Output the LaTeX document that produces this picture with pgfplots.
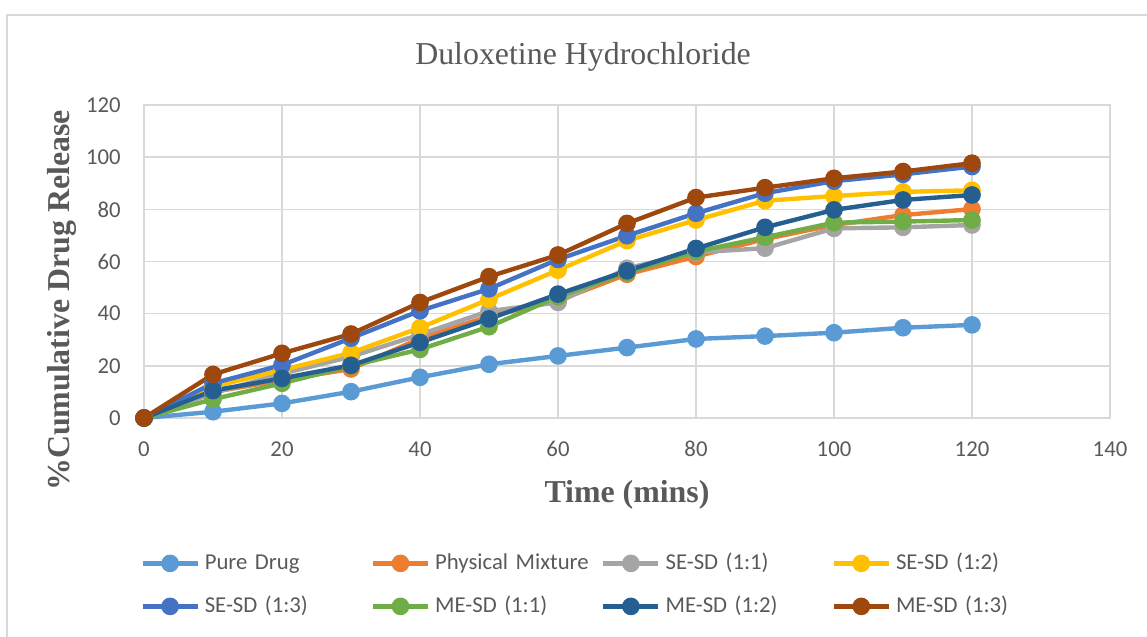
\documentclass[border=0pt]{standalone}
\usepackage{fontspec}
\setmainfont{Liberation Serif}
\newfontfamily\calibri{Carlito}
\usepackage{pgfplots}
\usepackage{pgfplotstable}
\pgfplotsset{compat=1.18}

\definecolor{gridgray}{HTML}{D9D9D9}
\definecolor{txtgray}{HTML}{595959}
\definecolor{cPure}{HTML}{5B9BD5}
\definecolor{cPM}{HTML}{ED7D31}
\definecolor{cSEa}{HTML}{A5A5A5}
\definecolor{cSEb}{HTML}{FFC000}
\definecolor{cSEc}{HTML}{4472C4}
\definecolor{cMEa}{HTML}{70AD47}
\definecolor{cMEb}{HTML}{255E91}
\definecolor{cMEc}{HTML}{9E480E}

% cumulative release (%) vs time (min)
\pgfplotstableread{
t   pure  pm    sea   seb   sec   mea   meb   mec
0   0     0     0     0     0     0     0     0
10  2.4   10.0  9.5   12.0  13.3  7.2   10.5  16.7
20  5.6   14.5  17.0  18.4  20.3  13.3  15.2  24.8
30  10.1  18.8  23.5  25.0  30.6  20.0  20.2  32.2
40  15.6  30.5  32.0  34.6  41.1  26.3  29.0  44.3
50  20.6  39.0  41.0  45.5  49.5  35.0  38.0  54.2
60  23.8  45.0  44.3  56.7  60.8  46.5  47.5  62.5
70  27.0  55.1  57.4  68.0  69.9  55.8  56.4  74.6
80  30.3  61.9  63.5  75.9  78.5  63.8  65.0  84.5
90  31.4  68.6  65.1  83.3  86.2  69.3  73.1  88.3
100 32.7  74.0  72.7  85.1  90.8  74.9  79.8  91.9
110 34.6  77.8  73.1  86.7  93.4  75.3  83.6  94.5
120 35.7  80.1  74.0  87.3  96.4  75.9  85.5  97.7
}\drug

\begin{document}
\begin{tikzpicture}
\useasboundingbox (-72bp,-109.5bp) rectangle (501.5bp,209bp);
\draw[gridgray, line width=1bp] (-68.5bp,-120bp) -- (-68.5bp,201.5bp) -- (510bp,201.5bp);
\begin{axis}[
  scale only axis,
  width=483bp, height=156.5bp,
  xmin=0, xmax=140, ymin=0, ymax=120,
  xtick={0,20,...,140}, ytick={0,20,...,120},
  grid=major,
  major grid style={gridgray, line width=0.8bp},
  axis line style={gridgray, line width=0.8bp},
  major tick length=0pt,
  clip=false,
  /pgf/number format/assume math mode=true,
  tick label style={font=\calibri\fontsize{11.4}{13}\selectfont, text=txtgray, inner sep=0pt},
  xticklabel style={anchor=center, yshift=-15.5bp},
  yticklabel style={anchor=east, xshift=-11.5bp},
  title={Duloxetine Hydrochloride},
  title style={at={(axis description cs:0.4545,1.115)}, anchor=center,
    font=\fontsize{16}{19}\selectfont, text=txtgray},
  xlabel={Time (mins)},
  xlabel style={at={(axis description cs:0.5,-0.246)}, anchor=center,
    font=\bfseries\fontsize{16}{19}\selectfont, text=txtgray},
  ylabel={\%Cumulative Drug Release},
  ylabel style={at={(axis description cs:-0.0849,0.3754)}, anchor=center,
    font=\bfseries\fontsize{16}{19}\selectfont, text=txtgray},
  every axis plot/.append style={line width=2.2bp, mark=*, mark size=3.3bp},
  legend columns=4,
  legend cell align=left,
  legend image code/.code={
    \draw[mark repeat=2, mark phase=2, #1] plot coordinates {(0bp,0bp) (13.75bp,0bp) (27.5bp,0bp)};
  },
  legend style={
    at={(axis description cs:-0.00414,-0.4281)}, anchor=north west,
    draw=none, fill=none, inner sep=0pt,
    font=\calibri\fontsize{11.4}{13}\selectfont, text=txtgray,
    nodes={inner sep=0pt, text width=83bp, text height=8.5bp, text depth=2.5bp},
    /tikz/every odd column/.style={column sep=2.5bp},
    /tikz/every even column/.style={column sep=0bp},
    /tikz/row sep=10.5bp,
  },
]
\addplot[color=cPure] table[x=t, y=pure] {\drug};
\addplot[color=cPM]   table[x=t, y=pm]   {\drug};
\addplot[color=cSEa]  table[x=t, y=sea]  {\drug};
\addplot[color=cSEb]  table[x=t, y=seb]  {\drug};
\addplot[color=cSEc]  table[x=t, y=sec]  {\drug};
\addplot[color=cMEa]  table[x=t, y=mea]  {\drug};
\addplot[color=cMEb]  table[x=t, y=meb]  {\drug};
\addplot[color=cMEc]  table[x=t, y=mec]  {\drug};
\legend{Pure Drug, Physical Mixture, SE-SD (1:1), SE-SD (1:2),
  SE-SD (1:3), ME-SD (1:1), ME-SD (1:2), ME-SD (1:3)}
\end{axis}
\end{tikzpicture}
\end{document}
